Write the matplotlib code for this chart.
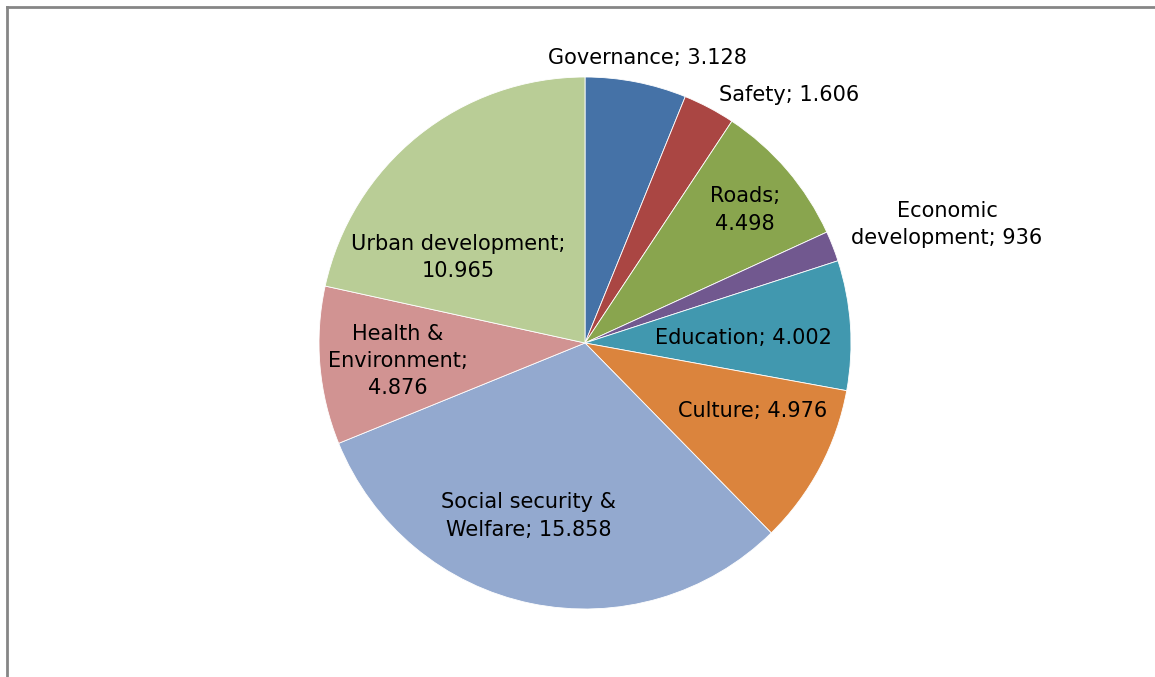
import matplotlib
matplotlib.use("Agg")
import matplotlib.pyplot as plt
from matplotlib.lines import Line2D

# Budget allocation per department
categories = [
    "Governance", "Safety", "Roads", "Economic development", "Education",
    "Culture", "Social security & Welfare", "Health & Environment",
    "Urban development",
]
values = [3128, 1606, 4498, 936, 4002, 4976, 15858, 4876, 10965]

# Label text as it is laid out (line breaks)
label_lines = [
    "Governance; {v}", "Safety; {v}", "Roads;\n{v}", "Economic\ndevelopment; {v}",
    "Education; {v}", "Culture; {v}", "Social security &\nWelfare; {v}",
    "Health &\nEnvironment;\n{v}", "Urban development;\n{v}",
]
# Label anchor positions, in pie-radius units from the centre
label_pos = [
    (0.233, 1.071), (0.767, 0.932), (0.602, 0.500), (1.361, 0.444),
    (0.594, 0.019), (0.632, -0.256), (-0.211, -0.650), (-0.703, -0.068),
    (-0.477, 0.320),
]

colors = ["#4572A7", "#AA4643", "#89A54E", "#71588F", "#4198AF",
          "#DB843D", "#93A9CF", "#D19392", "#B9CD96"]

W, H = 1155, 677
fig = plt.figure(figsize=(W / 100, H / 100), dpi=100)
fig.patch.set_facecolor("white")

cx, cy, r = 585, 343, 266
ax = fig.add_axes([(cx - r) / W, (H - cy - r) / H, 2 * r / W, 2 * r / H])
ax.pie(values, colors=colors, startangle=90, counterclock=False, radius=1,
       wedgeprops=dict(edgecolor="white", linewidth=0.6))
ax.set_xlim(-1, 1)
ax.set_ylim(-1, 1)
ax.set_aspect("equal")
ax.axis("off")

for fmt, v, (x, y) in zip(label_lines, values, label_pos):
    txt = fmt.format(v=f"{v:,}".replace(",", "."))
    ax.text(x, y, txt, ha="center", va="center", fontsize=15,
            family="DejaVu Sans", color="black", clip_on=False,
            linespacing=1.45)

# Chart frame (top and left edges visible)
frame = dict(color="#868686", linewidth=2, transform=fig.transFigure)
fig.add_artist(Line2D([7 / W, 1], [1 - 7 / H, 1 - 7 / H], **frame))
fig.add_artist(Line2D([7 / W, 7 / W], [0, 1 - 7 / H], **frame))

fig.savefig("out.png", dpi=100)
